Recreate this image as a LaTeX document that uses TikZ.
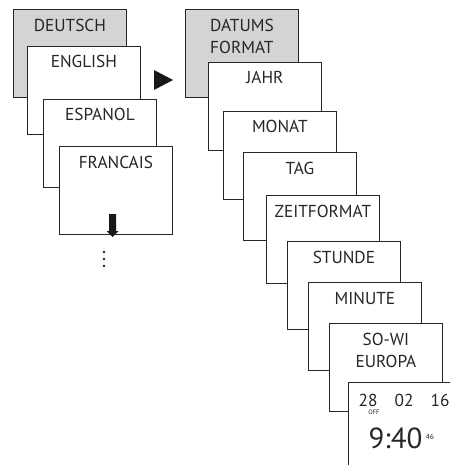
\documentclass[tikz,border=0pt]{standalone}
\usepackage{fontspec}
\setmainfont{PT Sans}

\begin{document}
\begin{tikzpicture}[x=1pt,y=-1pt,align=center,
    screen/.style={draw=black!85,line width=0.8pt,fill=white,anchor=north west,
        minimum width=113pt,minimum height=88pt,inner sep=0pt},
    active/.style={screen,fill=black!17},
    caption/.style={anchor=base,inner sep=0pt,text=black!85,
        font=\fontsize{17.3}{22}\selectfont},
    tiny/.style={anchor=base,inner sep=0pt,text=black!85}]

\useasboundingbox (0,0) rectangle (450,465);
\clip (0,0) rectangle (450,465);

% language menu
\node[active] (deutsch) at (13,9) {};
\node[caption] (deutschtxt) at ([yshift=-23pt]deutsch.north) {DEUTSCH};
\node[screen] (english) at (27,46) {};
\node[caption] (englishtxt) at ([yshift=-22pt]english.north) {ENGLISH};
\node[screen] (espanol) at (43,99) {};
\node[caption] (espanoltxt) at ([yshift=-22pt]espanol.north) {ESPANOL};
\node[screen] (francais) at (59,146) {};
\node[caption] (francaistxt) at ([yshift=-22pt]francais.north) {FRANCAIS};

\fill[black!90] (109,214) -- (116,214) -- (116,231) -- (118.5,231) -- (112.5,237)
    -- (106.5,231) -- (109,231) -- cycle;
\foreach \y in {252,259,266}
    \fill[black!85] (104,\y) circle (1.3pt);

\fill[black!90] (154,70) -- (173,80) -- (154,90) -- cycle;

% date and time menu (two-line captions sit on their last line)
\node[active] (datum) at (185,9) {};
\node[caption] (datumtxt) at ([yshift=-45pt]datum.north) {DATUMS\\FORMAT};
\node[screen] (jahr) at (208,62) {};
\node[caption] (jahrtxt) at ([yshift=-22pt]jahr.north) {JAHR};
\node[screen] (monat) at (223,111) {};
\node[caption] (monattxt) at ([yshift=-22pt]monat.north) {MONAT};
\node[screen] (tag) at (243,152) {};
\node[caption] (tagtxt) at ([yshift=-22pt]tag.north) {TAG};
\node[screen] (zeitformat) at (266,195) {};
\node[caption] (zeitformattxt) at ([yshift=-22pt]zeitformat.north) {ZEITFORMAT};
\node[screen] (stunde) at (287,241) {};
\node[caption] (stundetxt) at ([yshift=-22pt]stunde.north) {STUNDE};
\node[screen] (minute) at (308,282) {};
\node[caption] (minutetxt) at ([yshift=-22pt]minute.north) {MINUTE};
\node[screen] (sowi) at (329,323) {};
\node[caption] (sowitxt) at ([yshift=-44pt]sowi.north) {SO-WI\\EUROPA};
\node[screen] (uhr) at (348,382) {};

% clock display
\node[caption] (tag28) at (368,406) {28};
\node[caption] (monat02) at (404,406) {02};
\node[caption] (jahr16) at (440,406) {16};
\node[tiny,font=\fontsize{6.5}{7}\selectfont] (off) at (374,414.5) {OFF};
\node[tiny,font=\fontsize{29}{30}\selectfont] (zeit) at (395.5,448) {9:40};
\node[tiny,font=\fontsize{7.5}{8}\selectfont,anchor=base west] (sek)
    at ([xshift=3pt,yshift=9pt]zeit.base east) {46};

\end{tikzpicture}
\end{document}
